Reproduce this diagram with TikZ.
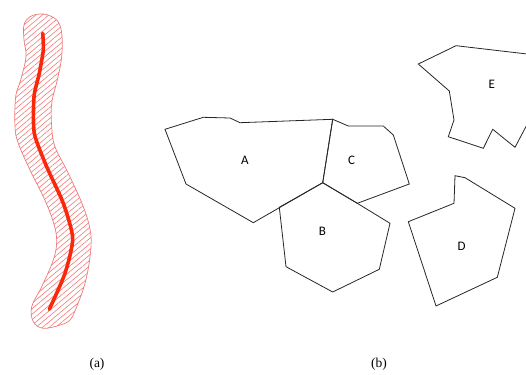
\documentclass[tikz,border=0pt]{standalone}
\usepackage{fontspec}
\setmainfont{Liberation Serif}
\newfontfamily\labelfont{Carlito}
\usetikzlibrary{calc, patterns.meta, positioning}

\definecolor{bufred}{RGB}{242,120,120}
\definecolor{linered}{RGB}{250,40,10}

\begin{document}
\begin{tikzpicture}[x=1pt, y=-1pt, >=latex,
    region/.style={draw=black!85, line width=0.8pt, line join=miter},
    lbl/.style={font=\labelfont\fontsize{13}{15}\selectfont},
    captxt/.style={font=\fontsize{13.5}{15}\selectfont}]
    \useasboundingbox (0,0) rectangle (526,374);
    \clip (0,0) rectangle (526,374);

    % (a) vung dem quanh duong
    \draw[bufred, line width=0.7pt,
          pattern={Lines[angle=40, distance=4.2pt, line width=0.6pt]}, pattern color=bufred]
        plot[smooth cycle, tension=0.6] coordinates {
        (43.3,14) (30,16.7) (24,25) (24,40) (26,56.7) (20.7,80) (15.7,96.7)
        (15,126.7) (18.3,143.3) (30,170) (43.3,196.7) (52.7,220) (56.7,240)
        (53.3,260) (41.7,286.7) (31.7,306.7) (33.3,321.7) (43.3,328.3)
        (60,325) (70,320) (76.7,306.7) (85,283.3) (90,256.7) (90.7,233.3)
        (83.3,206.7) (68.3,173.3) (55,146.7) (51.7,126.7) (51.7,103.3)
        (57.3,80) (61.7,56.7) (61.7,33.3) (56.7,20)};
    \draw[linered, line width=3.6pt, line cap=round, line join=round]
        plot[smooth, tension=0.4] coordinates {
        (42.7,33.3) (43.3,50) (39.3,73.3) (34,96.7) (34.3,133.3) (46.7,166.7)
        (63.3,203.3) (72.7,238.3) (65,273.3) (49.3,309.3)};

    % (b) cac vung
    \coordinate (ac) at (332.7,119.3);
    \coordinate (abc) at (322.7,182.7);
    \coordinate (ab) at (279.3,207.3);
    \coordinate (bc) at (357.3,203.3);

    \draw[region] (165,129.3) -- (203.3,117.3) -- (230,118) -- (240,122.7)
        -- (ac) -- (abc) -- (253.3,222.7) -- (186,184) -- cycle;
    \draw[region] (ac) -- (348.3,126) -- (383.3,126) -- (393.3,135)
        -- (409.3,184) -- (bc) -- (abc) -- cycle;
    \draw[region] (ab) -- (abc) -- (bc) -- (390,223.3) -- (379.3,269.3)
        -- (332.7,292) -- (286,266.7) -- cycle;
    \draw[region] (455,175.7) -- (465,177.7) -- (515,208.3) -- (497.3,277.3)
        -- (436,306) -- (408.3,221.7) -- (454,203.3) -- cycle;
    \draw[region] (418.3,64) -- (456,45.7) -- (540,55.5) -- (540,100)
        -- (515,147.3) -- (492.7,129.3) -- (483.3,148.3) -- (448.3,136.7)
        -- (454,120) -- (449.3,91) -- cycle;

    \node[lbl] (A) at (245,160.5) {A};
    \node[lbl] (B) at (322.3,231.5) {B};
    \node[lbl] (C) at (351.7,160) {C};
    \node[lbl] (D) at (461.7,246) {D};
    \node[lbl] (E) at (491.7,84) {E};

    % chu thich
    \node[captxt] (capa) at (97,364) {(a)};
    \node[captxt] (capb) at (379,364) {(b)};
\end{tikzpicture}
\end{document}
